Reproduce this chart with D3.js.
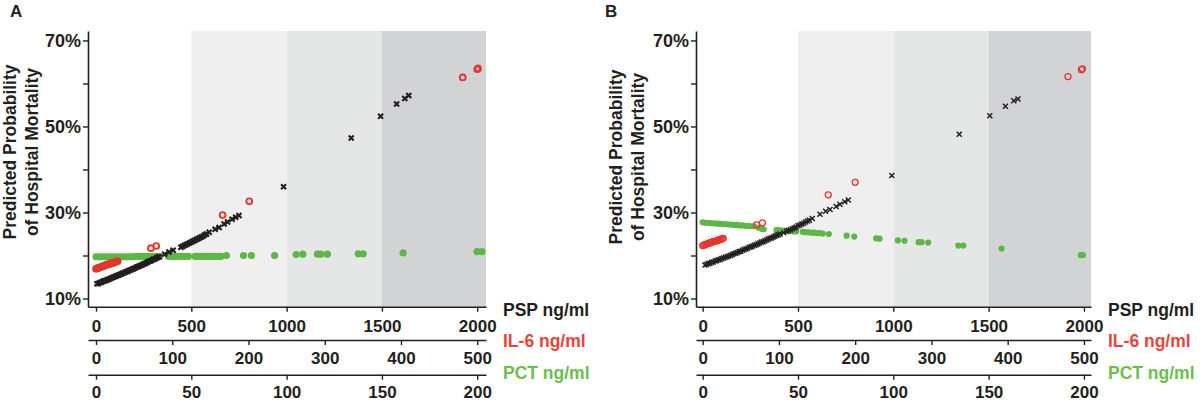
<!DOCTYPE html>
<html>
<head>
<meta charset="utf-8">
<script src="https://cdn.jsdelivr.net/npm/d3@7"></script>
<style>
  body { margin: 0; background: #fff; }
  svg { display: block; font-family: "Liberation Sans", Arial, Helvetica, sans-serif; font-weight: bold; }
</style>
</head>
<body>
<div id="chart"></div>
<script>
// Axis ticks
const pspTicks = [0, 500, 1000, 1500, 2000];
const il6Ticks = [0, 100, 200, 300, 400, 500];
const pctTicks = [0, 50, 100, 150, 200];
const probTicks = [10, 20, 30, 40, 50, 60, 70];
const probLabelTicks = [10, 30, 50, 70];

// PSP cut-offs for the grey bands
const shadeBreaks = [500, 1000, 1500];

const markerNames = ["PSP ng/ml", "IL-6 ng/ml", "PCT ng/ml"];
const yLabelLines = ["Predicted Probability", "of Hospital Mortality"];
const panelNames = ["A", "B"];

// Panel A: [biomarker value, predicted probability %]
const pspA = [
  [5,13.4],[13,13.5],[21,13.7],[29,13.8],[37,14.0],[45,14.1],[53,14.2],[61,14.4],[69,14.5],[77,14.7],
  [85,14.8],[93,15.0],[101,15.1],[109,15.3],[117,15.4],[125,15.6],[133,15.7],[141,15.9],[149,16.0],[157,16.2],
  [165,16.3],[173,16.5],[181,16.6],[189,16.8],[197,16.9],[205,17.1],[213,17.3],[221,17.4],[229,17.6],[237,17.7],
  [245,17.9],[253,18.1],[261,18.2],[269,18.4],[277,18.6],[285,18.7],[293,18.9],[301,19.1],[309,19.2],[317,19.4],
  [325,19.6],[333,19.7],[360,20.3],[383,20.8],[405,21.2],
  [445,21.9],[454,22.1],[463,22.3],[472,22.5],[481,22.7],[490,22.9],[499,23.1],[508,23.3],[517,23.5],[526,23.7],
  [535,23.9],[544,24.1],[553,24.3],[562,24.5],[571,24.8],[580,25.0],[594,25.4],
  [625,26.1],[646,26.5],[672,27.3],[690,27.8],[714,28.4],[733,28.9],[750,29.3],
  [984,36.0],[1339,47.3],[1493,52.4],[1577,55.2],[1620,56.5],[1641,57.2]
];
const il6A = [
  [0,16.9],[1.5,17.0],[3,17.1],[4.5,17.2],[6,17.3],[7.5,17.4],[9,17.5],[10.5,17.6],[12,17.7],[13.5,17.8],
  [15,17.9],[16.5,18.0],[18,18.0],[19.5,18.1],[21,18.2],[22.5,18.3],[24,18.4],[25.5,18.5],[27,18.6],[28.5,18.7],
  [72,21.7],[79,22.2],[166,29.4],[201,32.6],[481,61.4],[500,63.3],[501,63.5]
];
const pctA = [
  [0,19.7],[1.5,19.7],[3,19.7],[4.5,19.7],[6,19.7],[7.5,19.7],[9,19.7],[10.5,19.7],[12,19.7],[13.5,19.7],
  [15,19.7],[16.5,19.7],[18,19.7],[19.5,19.7],[21,19.8],[22.5,19.8],[24,19.8],[25.5,19.8],[27,19.8],[28.5,19.8],
  [30,19.8],[31.5,19.8],[33,19.8],
  [38,19.8],[39.5,19.8],[41,19.8],[42.5,19.8],[44,19.8],[45.5,19.8],[47,19.8],[48.5,19.8],
  [52,19.8],[53.5,19.8],[55,19.8],[56.5,19.8],[58,19.8],[59.5,19.8],[61,19.8],[62.5,19.8],[64,19.8],[65.5,19.8],
  [68.4,20.0],[77.4,20.0],[81.5,20.0],[93.7,20.0],[105,20.2],[108.5,20.3],[116.2,20.3],[118,20.3],[121.4,20.3],
  [137.6,20.4],[140.2,20.4],[161.1,20.6],[199.9,20.9],[202.5,20.9]
];

// Panel B
const pspB = [
  [12,17.8],[20,17.9],[29,18.1],[38,18.2],[47,18.4],[56,18.5],[65,18.7],[74,18.8],[83,19.0],[92,19.1],
  [101,19.3],[110,19.4],[119,19.6],[128,19.7],[137,19.9],[146,20.0],[155,20.2],[164,20.4],[173,20.5],[182,20.7],
  [191,20.9],[200,21.0],[209,21.2],[218,21.4],[227,21.5],[236,21.7],[245,21.9],[254,22.0],[263,22.2],[272,22.4],
  [281,22.5],[290,22.7],[299,22.9],[308,23.1],[317,23.2],[326,23.4],[335,23.6],[344,23.8],[353,24.0],[362,24.1],
  [371,24.3],[380,24.5],[389,24.7],[398,24.8],[407,25.0],
  [425,25.3],[440,25.6],[450,25.8],[460,26.0],[470,26.2],[480,26.4],[490,26.6],[500,26.9],[510,27.1],[520,27.3],
  [530,27.5],[540,27.8],[550,28.0],[560,28.2],[575,28.6],
  [615,29.6],[645,30.3],[668,30.7],[700,31.4],[720,31.9],[745,32.5],[764,32.9],
  [992,38.6],[1346,48.2],[1506,52.5],[1588,54.7],[1632,56.0],[1654,56.4]
];
const il6B = [
  [0,22.3],[1.5,22.4],[3,22.5],[4.5,22.6],[6,22.7],[7.5,22.8],[9,22.9],[10.5,23.0],[12,23.1],[13.5,23.2],
  [15,23.3],[16.5,23.3],[18,23.4],[19.5,23.5],[21,23.6],[22.5,23.7],[24,23.8],[25.5,23.9],[27,24.0],
  [70.6,27.1],[78.4,27.6],[164.7,34.1],[200,37.0],[479,61.6],[496.7,63.2],[498,63.4]
];
const pctB = [
  [0,27.7],[1.5,27.6],[3,27.6],[4.5,27.5],[6,27.5],[7.5,27.4],[9,27.4],[10.5,27.3],[12,27.3],[13.5,27.2],
  [15,27.2],[16.5,27.1],[18,27.1],[19.5,27.0],[21,27.0],[22.5,26.9],[24,26.9],[25.5,26.8],[27,26.8],[29.5,26.4],
  [31,26.2],[32,26.1],
  [38.7,25.9],[40,25.9],[41.5,25.8],[43,25.8],[44.5,25.7],[46,25.7],[47.5,25.6],[49,25.6],
  [52.5,25.5],[54,25.4],[55.5,25.4],[57,25.3],[58.5,25.3],[60,25.2],[61.5,25.2],[63,25.1],
  [66.2,25.0],[75.5,24.6],[79.5,24.4],[91,24.0],[92.8,23.9],[102.4,23.5],[105.9,23.4],[113.3,23.1],[114.8,23.1],
  [118.3,23.0],[134.1,22.3],[136.7,22.3],[156.8,21.6],[198.3,20.1],[199.5,20.1]
];

// Colours
const ink = "#231f20";
const red = "#e3362c";
const green = "#5db748";
const shadeColors = ["#efefef", "#e5e6e6", "#d2d3d5"];

const svg = d3.select("#chart")
  .append("svg")
  .attr("width", 1200)
  .attr("height", 408);

// Shared y scale (both panels line up vertically)
const plotTop = 31;
const plotBottom = 306.7;
const y = d3.scaleLinear().domain([8.09, 72.2]).range([plotBottom, plotTop]);

const axisRows = [
  { y: plotBottom, ticks: pspTicks, factor: 1, padding: 8, labelY: 316, color: ink },
  { y: 340, ticks: il6Ticks, factor: 4, padding: 7, labelY: 347, color: "#e8453a" },
  { y: 374.7, ticks: pctTicks, factor: 10, padding: 6, labelY: 379, color: "#6abf4c" }
];

const panels = [
  { name: panelNames[0], left: 88, right: 486, domain: [-42, 2046], letterX: 10, labelX: 503,
    titleX: 16, labelCy: 152, psp: pspA, il6: il6A, pct: pctA,
    greenR: 3.6, redR: 2.9, redW: 1.9, crossW: 2.1 },
  { name: panelNames[1], left: 696, right: 1091, domain: [-35, 2037], letterX: 605, labelX: 1108,
    titleX: 622, labelCy: 157, psp: pspB, il6: il6B, pct: pctB,
    greenR: 3.1, redR: 3, redW: 1.3, crossW: 1.5 }
];

function styleAxis(g, fontSize) {
  g.select(".domain").attr("stroke", ink).attr("stroke-width", 1.6);
  g.selectAll(".tick line").attr("stroke", ink).attr("stroke-width", 1.4);
  g.selectAll(".tick text")
    .attr("fill", ink)
    .attr("font-size", fontSize)
    .attr("font-weight", "bold")
    .attr("font-family", "Liberation Sans, Arial, sans-serif");
}

function drawPanel(p) {
  const g = svg.append("g");

  const x = d3.scaleLinear().domain(p.domain).range([p.left, p.right]);
  const xIl6 = x.copy().domain(p.domain.map(v => v / 4));
  const xPct = x.copy().domain(p.domain.map(v => v / 10));

  // Grey bands by PSP level
  const bands = shadeBreaks.map((b, i) => [b, shadeBreaks[i + 1] ?? p.domain[1]]);
  g.selectAll("rect.band")
    .data(bands)
    .join("rect")
    .attr("class", "band")
    .attr("x", d => x(d[0]))
    .attr("y", plotTop)
    .attr("width", d => x(d[1]) - x(d[0]))
    .attr("height", plotBottom - plotTop)
    .attr("fill", (d, i) => shadeColors[i]);

  // PCT (green dots)
  g.selectAll("circle.pct")
    .data(p.pct)
    .join("circle")
    .attr("class", "pct")
    .attr("cx", d => xPct(d[0]))
    .attr("cy", d => y(d[1]))
    .attr("r", p.greenR)
    .attr("fill", green);

  // IL-6 (red open circles)
  g.selectAll("circle.il6")
    .data(p.il6)
    .join("circle")
    .attr("class", "il6")
    .attr("cx", d => xIl6(d[0]))
    .attr("cy", d => y(d[1]))
    .attr("r", p.redR)
    .attr("fill", "none")
    .attr("stroke", red)
    .attr("stroke-width", p.redW);

  // PSP (black crosses)
  const cross = d3.symbol(d3.symbolX, 18);
  g.selectAll("path.psp")
    .data(p.psp)
    .join("path")
    .attr("class", "psp")
    .attr("d", cross)
    .attr("transform", d => `translate(${x(d[0])},${y(d[1])})`)
    .attr("fill", "none")
    .attr("stroke", ink)
    .attr("stroke-width", p.crossW);

  // Y axis
  g.append("g")
    .attr("transform", `translate(${p.left},0)`)
    .call(d3.axisLeft(y)
      .tickValues(probTicks)
      .tickFormat(d => probLabelTicks.includes(d) ? d + "%" : "")
      .tickSize(5)
      .tickPadding(2)
      .tickSizeOuter(0))
    .call(styleAxis, 18);

  // Three stacked x axes
  axisRows.forEach((row, i) => {
    const scale = x.copy().domain(p.domain.map(v => v / row.factor));
    g.append("g")
      .attr("transform", `translate(0,${row.y})`)
      .call(d3.axisBottom(scale)
        .tickValues(row.ticks)
        .tickFormat(d3.format("d"))
        .tickSize(5)
        .tickPadding(row.padding)
        .tickSizeOuter(0))
      .call(styleAxis, 17);

    g.append("text")
      .attr("x", p.labelX)
      .attr("y", row.labelY)
      .attr("font-size", 17.5)
      .attr("fill", row.color)
      .text(markerNames[i]);
  });

  // Y axis title
  yLabelLines.forEach((line, i) => {
    g.append("text")
      .attr("transform", `translate(${p.titleX + i * 22},${p.labelCy}) rotate(-90)`)
      .attr("text-anchor", "middle")
      .attr("font-size", 17.5)
      .attr("fill", ink)
      .text(line);
  });

  // Panel letter
  g.append("text")
    .attr("x", p.letterX)
    .attr("y", 17)
    .attr("font-size", 17)
    .attr("fill", ink)
    .text(p.name);
}

panels.forEach(drawPanel);
</script>
</body>
</html>
